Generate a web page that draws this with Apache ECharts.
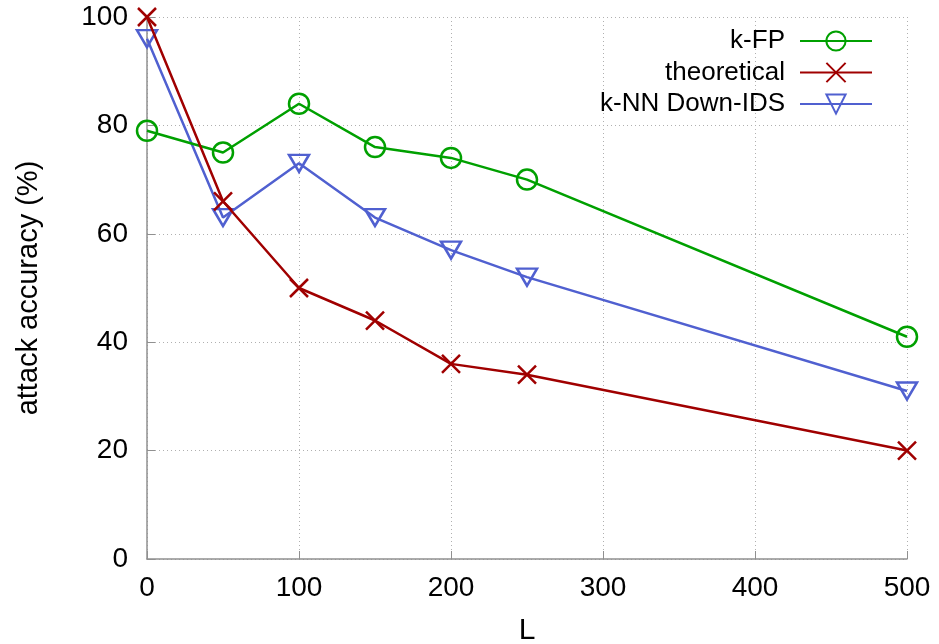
<!DOCTYPE html>
<html>
<head>
<meta charset="utf-8">
<script src="https://cdn.jsdelivr.net/npm/echarts@6/dist/echarts.min.js"></script>
<style>
  html, body { margin: 0; padding: 0; background: #fff; }
  #chart { width: 939px; height: 644px; }
</style>
</head>
<body>
<div id="chart"></div>
<script>
// window sizes L
var lValues = [0, 50, 100, 150, 200, 250, 500];
// attack accuracy (%)
var kfp = [79, 75, 84, 76, 74, 70, 41];
var theoretical = [100, 66, 50, 44, 36, 34, 20];
var knnDownIds = [96, 63, 73, 63, 57, 52, 31];

var seriesNames = ['k-FP', 'theoretical', 'k-NN Down-IDS'];

function pairs(ys) {
  return lValues.map(function (x, i) { return [x, ys[i]]; });
}

var font = 'Liberation Sans, Arial, sans-serif';
var gridLine = { show: true, lineStyle: { color: '#b0b0b0', type: [1, 3], width: 1 } };

var myChart = echarts.init(document.getElementById('chart'));
var option = {
  animation: false,
  backgroundColor: '#fff',
  textStyle: { fontFamily: font },
  grid: { left: 147, right: 32, top: 17, bottom: 85, outerBoundsMode: 'none', containLabel: false },
  legend: seriesNames.map(function (name, i) {
    return {
      data: [name],
      right: 66,
      top: 28 + i * 31.5,
      padding: 0,
      itemWidth: 72,
      itemHeight: 24,
      itemGap: 0,
      align: 'right',
      textStyle: { fontSize: 26, color: '#000', fontFamily: font, padding: [0, 10, 0, 0] }
    };
  }),
  xAxis: {
    type: 'value',
    min: 0, max: 500, interval: 100,
    name: 'L',
    nameLocation: 'middle',
    nameGap: 57,
    nameTextStyle: { fontSize: 30, color: '#000' },
    axisLine: { show: true, onZero: false, lineStyle: { color: '#909090', width: 1.5 } },
    axisTick: { show: true, inside: true, length: 8, lineStyle: { color: '#909090' } },
    axisLabel: { fontSize: 28, color: '#000', margin: 15 },
    splitLine: gridLine
  },
  yAxis: {
    type: 'value',
    min: 0, max: 100, interval: 20,
    name: 'attack accuracy (%)',
    nameLocation: 'middle',
    nameGap: 104,
    nameTextStyle: { fontSize: 29, color: '#000' },
    axisLine: { show: true, lineStyle: { color: '#909090', width: 1.5 } },
    axisTick: { show: true, inside: true, length: 8, lineStyle: { color: '#909090' } },
    axisLabel: { fontSize: 28, color: '#000', margin: 19 },
    splitLine: gridLine
  },
  series: [
    {
      name: 'k-FP',
      type: 'line',
      data: pairs(kfp),
      symbol: 'circle',
      symbolSize: 20,
      lineStyle: { color: '#00a000', width: 2.5 },
      itemStyle: { color: 'rgba(0,0,0,0)', borderColor: '#00a000', borderWidth: 2.5 },
      z: 3
    },
    {
      name: 'theoretical',
      type: 'line',
      data: pairs(theoretical),
      symbol: 'path://M0 0L10 10M10 0L0 10',
      symbolSize: 18,
      lineStyle: { color: '#a00000', width: 2.5 },
      itemStyle: { color: 'rgba(0,0,0,0)', borderColor: '#a00000', borderWidth: 2.5 },
      z: 4
    },
    {
      name: 'k-NN Down-IDS',
      type: 'line',
      data: pairs(knnDownIds),
      symbol: 'triangle',
      symbolRotate: 180,
      symbolSize: [20, 17],
      lineStyle: { color: '#5060d0', width: 2.5 },
      itemStyle: { color: 'rgba(0,0,0,0)', borderColor: '#5060d0', borderWidth: 2.5 },
      z: 2
    }
  ]
};
myChart.setOption(option);
</script>
</body>
</html>
